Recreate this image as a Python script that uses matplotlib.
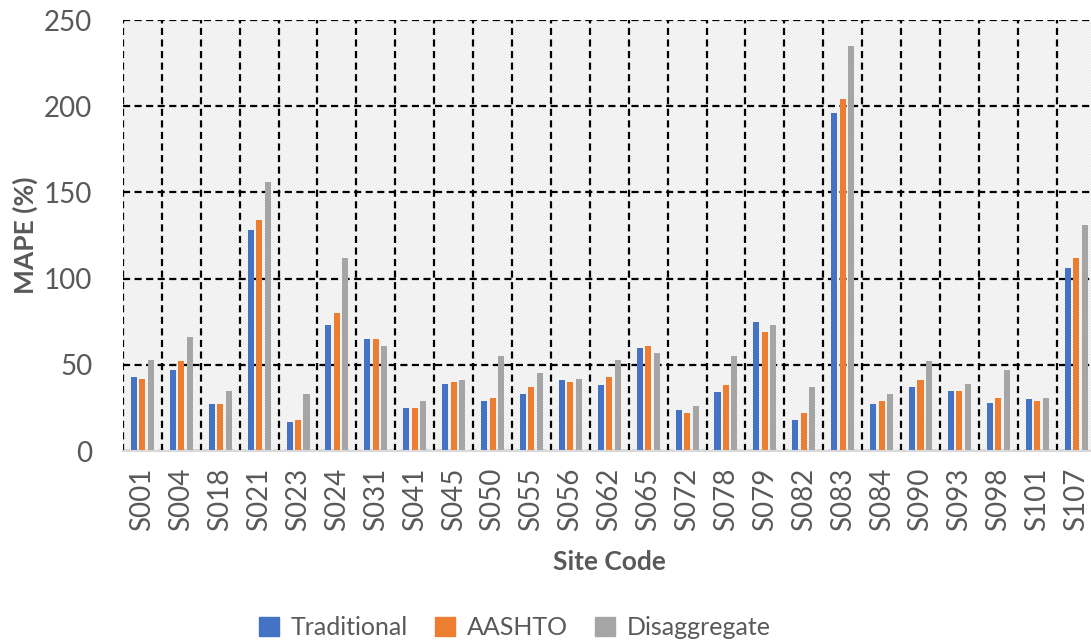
import numpy as np
import matplotlib
matplotlib.use("Agg")
import matplotlib.pyplot as plt
from matplotlib.patches import Rectangle, Patch

sites = ["S001", "S004", "S018", "S021", "S023", "S024", "S031", "S041", "S045",
         "S050", "S055", "S056", "S062", "S065", "S072", "S078", "S079", "S082",
         "S083", "S084", "S090", "S093", "S098", "S101", "S107"]
traditional = [43, 47, 27, 128, 17, 73, 65, 25, 39, 29, 33, 41, 38, 60, 24, 34,
               75, 18, 196, 27, 37, 35, 28, 30, 106]
aashto = [42, 52, 27, 134, 18, 80, 65, 25, 40, 31, 37, 40, 43, 61, 22, 38,
          69, 22, 204, 29, 41, 35, 31, 29, 112]
disaggregate = [53, 66, 35, 156, 33, 112, 61, 29, 41, 55, 45, 42, 53, 57, 26, 55,
                73, 37, 235, 33, 52, 39, 47, 31, 131]

plt.rcParams['font.family'] = ['Lato', 'DejaVu Sans']
plt.rcParams['hatch.linewidth'] = 0.6
txt = '#595959'

fig = plt.figure(figsize=(10.91, 6.42), dpi=100)
ax = fig.add_axes([0.1127, 0.2975, 0.8915, 0.6713])

x = np.arange(len(sites))
w = 0.155
off = 0.218

# fondo rayado
ax.add_patch(Rectangle((0, 0), 1, 1, transform=ax.transAxes, facecolor='white',
                       edgecolor='#e2e2e2', hatch='\\' * 12, linewidth=0, zorder=0))

ax.bar(x - off, traditional, w, color='#4472C4', zorder=3)
ax.bar(x, aashto, w, color='#ED7D31', zorder=3)
ax.bar(x + off, disaggregate, w, color='#A5A5A5', zorder=3)

ax.set_xlim(-0.5, len(sites) - 0.5)
ax.set_ylim(0, 250)
ax.set_yticks(np.arange(0, 251, 50))
ax.set_xticks(x)
ax.set_xticklabels(sites, rotation=90)
ax.set_xticks(np.arange(-0.5, len(sites), 1), minor=True)

ax.grid(True, which='minor', axis='x', color='black', linestyle=(0, (3.2, 2)), linewidth=1.6, zorder=1)
ax.grid(True, which='major', axis='y', color='black', linestyle=(0, (3.2, 2)), linewidth=1.6, zorder=1)
ax.set_axisbelow(True)

for s in ['top', 'left', 'right']:
    ax.spines[s].set_visible(False)
ax.spines['bottom'].set_color('#d9d9d9')
ax.spines['bottom'].set_linewidth(1.5)
ax.spines['bottom'].set_zorder(4)

ax.tick_params(axis='both', which='both', length=0, labelsize=20, labelcolor=txt)
ax.tick_params(axis='y', pad=22)
ax.tick_params(axis='x', pad=12)

ax.set_ylabel('MAPE (%)', fontsize=19, fontweight='bold', color=txt, labelpad=4)
ax.set_xlabel('Site Code', fontsize=19, fontweight='bold', color=txt, labelpad=14)

handles = [Patch(color='#4472C4', label='Traditional'),
           Patch(color='#ED7D31', label='AASHTO'),
           Patch(color='#A5A5A5', label='Disaggregate')]
fig.legend(handles=handles, loc='center', bbox_to_anchor=(0.472, 0.022), ncol=3,
           frameon=False, fontsize=18, labelcolor=txt, handlelength=0.8, handleheight=0.8,
           handletextpad=0.45, columnspacing=1.1)

fig.savefig('out.png', dpi=100)
